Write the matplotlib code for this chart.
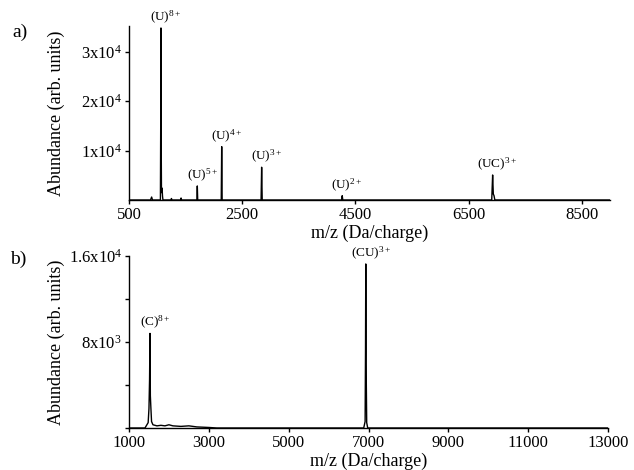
import matplotlib
matplotlib.use("Agg")
import matplotlib.pyplot as plt

plt.rcParams["font.family"] = ["Liberation Serif", "DejaVu Serif"]
plt.rcParams["mathtext.fontset"] = "custom"
plt.rcParams["mathtext.rm"] = "Liberation Serif"
plt.rcParams["mathtext.it"] = "Liberation Serif:italic"
plt.rcParams["mathtext.bf"] = "Liberation Serif:bold"

# panel a) spectrum (m/z, abundance)
mz_a = [500, 880, 900, 915, 1055, 1062, 1065, 1068, 1074, 1085, 1092, 1100,
        1240, 1250, 1260, 1410, 1420, 1430,
        1700, 1707, 1714, 2130, 2138, 2146, 2834, 2844, 2854,
        4258, 4268, 4278, 6910, 6926, 6938, 6950, 6965, 9000]
ab_a = [0, 0, 600, 0, 0, 20000, 34800, 14000, 1500, 2400, 800, 0,
        0, 300, 0, 0, 400, 0,
        0, 2840, 0, 0, 10800, 0, 0, 6630, 0,
        0, 870, 0, 0, 5060, 1200, 900, 0, 0]

# panel b) spectrum
mz_b = [1000, 1400, 1480, 1500, 1515, 1526, 1535, 1548, 1565, 1600, 1700,
        1800, 1900, 2000, 2100, 2300, 2500, 2700, 3000, 3200,
        6880, 6915, 6925, 6932, 6940, 6955, 6980, 13000]
ab_b = [0, 0, 500, 1800, 4500, 8800, 3000, 1900, 600, 300, 200,
        250, 200, 300, 200, 150, 200, 100, 50, 0,
        0, 600, 7100, 15260, 6000, 500, 0, 0]

# peak labels (text, m/z, abundance)
labels_a = [("(U)$^{8+}$", 1065, 34800), ("(U)$^{5+}$", 1707, 2840),
            ("(U)$^{4+}$", 2138, 10800), ("(U)$^{3+}$", 2844, 6630),
            ("(U)$^{2+}$", 4268, 870), ("(UC)$^{3+}$", 6926, 5060)]
labels_b = [("(C)$^{8+}$", 1526, 8800), ("(CU)$^{3+}$", 6932, 15260)]

xticks_a = [500, 2500, 4500, 6500, 8500]
yticks_a = [10000, 20000, 30000]
yticklabels_a = ["1x10$^4$", "2x10$^4$", "3x10$^4$"]
xticks_b = [1000, 3000, 5000, 7000, 9000, 11000, 13000]
yticks_b = [0, 4000, 8000, 12000, 16000]
yticklabels_b = ["", "", "8x10$^3$", "", "1.6x10$^4$"]


def style_axes(ax, width_px):
    for side in ("top", "right"):
        ax.spines[side].set_visible(False)
    for side in ("left", "bottom"):
        ax.spines[side].set_linewidth(1.0)
    ax.tick_params(direction="out", length=3, width=1.0, labelsize=12, pad=2)
    ax.set_xlabel("m/z (Da/charge)", fontsize=13, labelpad=1)
    ax.set_ylabel("Abundance (arb. units)", fontsize=13)
    # ylabel anchor is its right edge once rotated
    ax.yaxis.set_label_coords((65 - 129) / width_px, 0.5)


def put_labels(ax, labels):
    for text, x, y in labels:
        ax.annotate(text, xy=(x, y), xytext=(3.5, 1.5), textcoords="offset points",
                    ha="center", va="bottom", fontsize=9.5)


fig = plt.figure(figsize=(6.34, 4.70), dpi=100)

ax1 = fig.add_axes([129 / 634, 1 - 200 / 470, 481 / 634, 174 / 470])
ax1.plot(mz_a, ab_a, color="black", lw=1.0)
ax1.set_xlim(500, 9000)
ax1.set_ylim(0, 35200)
ax1.set_xticks(xticks_a)
ax1.set_yticks(yticks_a)
ax1.set_yticklabels(yticklabels_a)
style_axes(ax1, 481)
put_labels(ax1, labels_a)
fig.text(12 / 634, 1 - 32 / 470, "a)", fontsize=14, va="center")

ax2 = fig.add_axes([129 / 634, 1 - 428 / 470, 479 / 634, 172 / 470])
ax2.plot(mz_b, ab_b, color="black", lw=1.0)
ax2.set_xlim(1000, 13000)
ax2.set_ylim(0, 16000)
ax2.set_xticks(xticks_b)
ax2.set_yticks(yticks_b)
ax2.set_yticklabels(yticklabels_b)
style_axes(ax2, 479)
put_labels(ax2, labels_b)
fig.text(10 / 634, 1 - 259 / 470, "b)", fontsize=14, va="center")

fig.savefig("out.png", dpi=100)
